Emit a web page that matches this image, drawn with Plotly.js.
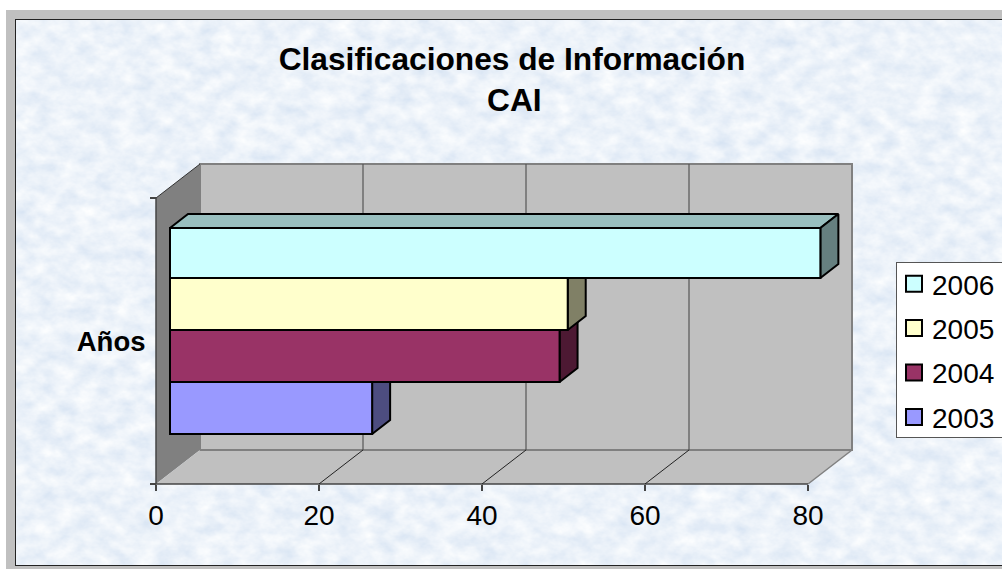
<!DOCTYPE html>
<html>
<head>
<meta charset="utf-8">
<script src="https://cdn.plot.ly/plotly-3.0.1.min.js"></script>
<style>
html,body{margin:0;padding:0;background:#fff;overflow:hidden;width:1002px;height:569px}
#frame{position:absolute;left:6px;top:10px;width:996px;height:559px;background:#c0c0c0}
#tex{position:absolute;left:9px;top:9px;width:987px;height:547px;box-sizing:border-box;border:1px solid #222;border-right:none;overflow:hidden;background:#dbe8f6}
#chart{position:absolute;left:0;top:0;width:1002px;height:569px}
</style>
</head>
<body>
<div id="frame"><div id="tex">
<svg width="987" height="547" xmlns="http://www.w3.org/2000/svg">
<filter id="mott" x="0" y="0" width="100%" height="100%">
<feTurbulence type="fractalNoise" baseFrequency="0.05 0.07" numOctaves="4" seed="7"/>
<feColorMatrix type="matrix" values="0.36 0 0 0 0.66  0.26 0 0 0 0.76  0.12 0 0 0 0.89  0 0 0 0 1"/>
</filter>
<rect width="987" height="547" filter="url(#mott)"/>
</svg>
</div></div>
<div id="chart"></div>
<script>
const years = ['2006', '2005', '2004', '2003'];
const values = [79.8, 48.8, 47.8, 24.8];
const faceColors = ['#CCFFFF', '#FFFFCC', '#993366', '#9999FF'];
const sideColors = ['#668080', '#808066', '#4D1933', '#4D4D80'];
const topColors = ['#99BFBF', '#BFBF99', '#732650', '#7373BF'];
const categoryLabel = ['Años'];
const xTicks = [0, 20, 40, 60, 80];

const pxX = 8.15, pxY = 286;             // pixels per axis unit
const wallDX = 44 / pxX, wallDY = 34 / pxY;
const barDX = 18 / pxX, barDY = 14 / pxY;
const baseX = 14 / pxX, floorY = 50 / pxY;
const barHeights = [50 / pxY, 52 / pxY, 52 / pxY, 52 / pxY];
const xRange = [-10 / pxX, 698 / pxX], yRange = [-6 / pxY, 324 / pxY];
// Lower edge of series i: the floor gap plus the heights of the bars below it
const barBottom = i => barHeights.slice(i + 1).reduce((a, b) => a + b, floorY);

const traces = [];
// Depth faces first (bottom series first), on the base subplot
for (let i = years.length - 1; i >= 0; i--) {
  const y0 = barBottom(i), y1 = y0 + barHeights[i], x1 = baseX + values[i];
  const common = {type: 'scatter', mode: 'lines', fill: 'toself', showlegend: false, hoverinfo: 'skip',
                  line: {color: '#000', width: 2}, xaxis: 'x', yaxis: 'y'};
  traces.push(Object.assign({}, common, {
    x: [baseX, baseX + barDX, x1 + barDX, x1, baseX], y: [y1, y1 + barDY, y1 + barDY, y1, y1],
    fillcolor: topColors[i], name: years[i] + ' top'}));
  traces.push(Object.assign({}, common, {
    x: [x1, x1 + barDX, x1 + barDX, x1, x1], y: [y0, y0 + barDY, y1 + barDY, y1, y0],
    fillcolor: sideColors[i], name: years[i] + ' side'}));
}
// Front faces on an overlay subplot, so they sit above every depth face
years.forEach((yr, i) => {
  traces.push({type: 'bar', orientation: 'h', name: yr, legendgroup: yr,
    x: [values[i]], y: [barBottom(i) + barHeights[i] / 2], base: [baseX], width: [barHeights[i]],
    marker: {color: faceColors[i], line: {color: '#000', width: 2}},
    xaxis: 'x2', yaxis: 'y2', hovertemplate: yr + ': %{x}<extra></extra>'});
});

const wallStroke = {color: '#808080', width: 2};
const shapes = [
  {type: 'path', layer: 'below', xref: 'x', yref: 'y', fillcolor: '#C0C0C0', line: wallStroke,
   path: `M${wallDX},${wallDY}L${80 + wallDX},${wallDY}L${80 + wallDX},${1 + wallDY}L${wallDX},${1 + wallDY}Z`},
  {type: 'path', layer: 'below', xref: 'x', yref: 'y', fillcolor: '#808080', line: {width: 0},
   path: `M0,0L${wallDX},${wallDY}L${wallDX},${1 + wallDY}L0,1Z`},
  {type: 'path', layer: 'below', xref: 'x', yref: 'y', fillcolor: '#C0C0C0', line: {width: 0},
   path: `M0,0L${wallDX},${wallDY}L${80 + wallDX},${wallDY}L80,0Z`},
  {type: 'line', layer: 'below', xref: 'x', yref: 'y', x0: wallDX, x1: 80 + wallDX, y0: wallDY, y1: wallDY, line: wallStroke},
  {type: 'line', layer: 'below', xref: 'x', yref: 'y', x0: 80, x1: 80 + wallDX, y0: 0, y1: wallDY, line: {color: '#808080', width: 1.5}},
  {type: 'line', layer: 'below', xref: 'x', yref: 'y', x0: 0, x1: wallDX, y0: 1, y1: 1 + wallDY, line: {color: '#333', width: 1}},
  {type: 'line', layer: 'below', xref: 'x', yref: 'y', x0: 0, x1: 0, y0: 0, y1: 1, line: {color: '#444', width: 1.5}},
  {type: 'line', layer: 'below', xref: 'x', yref: 'y', x0: 0, x1: 80, y0: 0, y1: 0, line: {color: '#444', width: 1.5}}
];
xTicks.slice(1, -1).forEach(t => {
  shapes.push({type: 'line', layer: 'below', xref: 'x', yref: 'y', x0: t + wallDX, x1: t + wallDX, y0: wallDY, y1: 1 + wallDY, line: {color: '#555', width: 1.2}});
  shapes.push({type: 'line', layer: 'below', xref: 'x', yref: 'y', x0: t, x1: t + wallDX, y0: 0, y1: wallDY, line: {color: '#222', width: 1}});
});

const font = 'Liberation Sans, Arial, sans-serif';
const layout = {
  width: 1002, height: 569, autosize: false, showlegend: true,
  paper_bgcolor: 'rgba(0,0,0,0)', plot_bgcolor: 'rgba(0,0,0,0)',
  margin: {l: 146, r: 148, t: 160, b: 79, pad: 0},
  barmode: 'overlay',
  font: {family: font, color: '#000', size: 28},
  title: {text: 'Clasificaciones de Información', font: {family: font, size: 31.7, weight: 'bold', color: '#000'},
          x: (512 - 146) / 708, xanchor: 'center', xref: 'paper', y: 1 - 70 / 569, yanchor: 'bottom', yref: 'container', pad: {b: 0}},
  annotations: [{text: 'CAI', showarrow: false, xref: 'paper', yref: 'paper',
    x: (514 - 146) / 708, y: (490 - 100) / 330, xanchor: 'center', yanchor: 'middle',
    font: {family: font, size: 31.7, weight: 'bold', color: '#000'}}],
  xaxis: {range: xRange, anchor: 'free', position: 6 / 330, showgrid: false, zeroline: false, showline: false,
          tickvals: xTicks, ticktext: xTicks.map(String), ticks: 'outside', ticklen: 6, tickwidth: 1.5, tickcolor: '#444',
          tickfont: {family: font, size: 28, color: '#000'}, fixedrange: true},
  yaxis: {range: yRange, anchor: 'free', position: 10 / 708, showgrid: false, zeroline: false, showline: false,
          tickvals: [0.5], ticktext: categoryLabel, ticks: 'outside', ticklen: 5, tickcolor: 'rgba(0,0,0,0)',
          tickfont: {family: font, size: 27.5, weight: 'bold', color: '#000'}, fixedrange: true},
  xaxis2: {range: xRange, overlaying: 'x', anchor: 'y2', visible: false, fixedrange: true},
  yaxis2: {range: yRange, overlaying: 'y', anchor: 'free', position: 10 / 708, side: 'left', showgrid: false, zeroline: false, showline: false,
          tickvals: [0, 1], ticktext: ['', ''], ticks: 'outside', ticklen: 6, tickwidth: 1.5, tickcolor: '#444', fixedrange: true},
  legend: {x: 896 / 1002 , y: 1 - 262 / 569, xref: 'container', yref: 'container', xanchor: 'left', yanchor: 'top', bgcolor: '#fff', bordercolor: '#555', borderwidth: 1,
           tracegroupgap: 5, font: {family: font, size: 28, color: '#000'}, traceorder: 'grouped'},
  shapes: shapes
};

Plotly.newPlot('chart', traces, layout, {staticPlot: true, displayModeBar: false}).then(gd => {
  // Legend swatches in the reference are larger and closer to their text than Plotly's defaults
  gd.querySelectorAll('.legendpoints path').forEach(p => {
    p.setAttribute('d', 'M8,8H-8V-8H8Z');
    p.setAttribute('transform', 'translate(17,-4)');
  });
  gd.querySelectorAll('.legendtext').forEach(t => {
    t.setAttribute('x', +t.getAttribute('x') - 5);
    t.setAttribute('y', +t.getAttribute('y') - 4);
  });
  const bg = gd.querySelector('.legend .bg');
  if (bg) bg.setAttribute('height', 175);
});
</script>
</body>
</html>
